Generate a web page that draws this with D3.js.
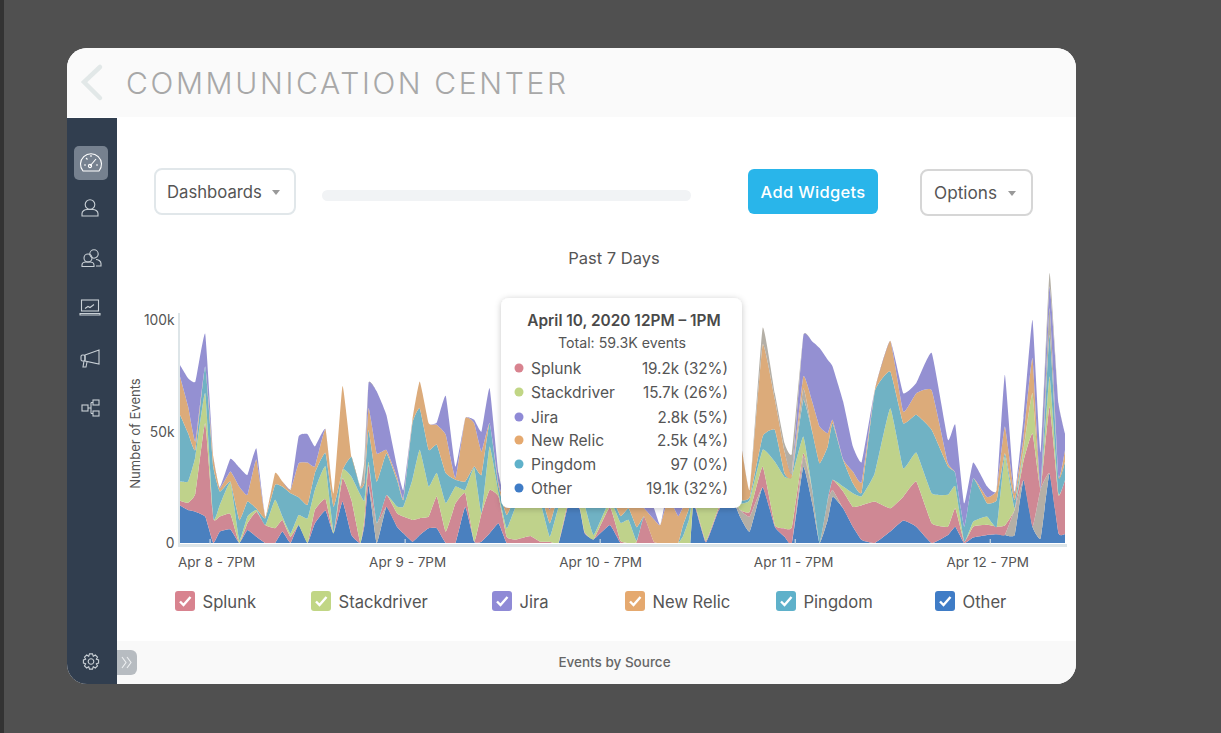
<!DOCTYPE html>
<html><head><meta charset="utf-8">
<script src="https://cdn.jsdelivr.net/npm/d3@7"></script>
<style>
html,body{margin:0;padding:0;background:#505050;overflow:hidden}
svg{display:block}
text{font-family:Inter,"Open Sans",sans-serif;fill:#555}
</style></head><body>
<svg id="c" width="1221" height="733"></svg>
<script>
// ---- data (thousands of events per source, hours after Apr 8 7PM) ----
const hours=[-3.7,-2.7,-1.8,-0.6,0.4,1.2,2.5,3.6,4.6,5.7,6.8,8,8.9,9.9,10.9,12,12.9,14.2,15.2,16.3,17.4,18.5,19,19.5,20.5,21.7,23,23.8,24.9,25.8,26.9,27.9,29,30.2,31.4,32.5,33.4,34.4,35.5,36.5,37.7,39.4,40.6,41.8,42.9,44.3,45.5,46.1,47.2,49.2,50.5,51.5,52.5,53.4,54.6,55.4,56.4,57.6,58.2,58.9,59.1,59.5,61,62.5,64,65.2,66.4,68,69.5,70.7,71.6,73,74.1,75,76,76.6,77.9,79.1,80.2,81.8,83.7,85.3,86.9,88.8,90.8,91.7,92.8,93.9,95.6,96.8,97.8,99,100.1,101.2,102.2,103.3,104.4,105.2];
const other=[16.7,14.7,14,11.8,0,5.1,6.1,0,5.8,2.8, 0,0,5.1,0,8,0,8.8,14.5,4.3,18.5, 3.6,0,8,25.9,0,16.2,7.3,4.3,.6,3.6, 6.6,6.6,0,0,16.2,.6,.6,4.3,8.8,0, 0,0,0,0,0,20,15,4.3,1.6,8, 0,0,0,0,0,0,0,0,0,0, 0,18,.3,14,22,11.8,5.1,24.9,7.3,2.8, 0,34,17.7,0,10.3,20.7,15.5,7.3,1.3,0, 5.1,10,7.3,0,3.6,7.3,0,2.5,3.6,3.9, 3.6,3.6,28.1,7.3,2.1,31.1,4.3,4];
const splunk=[2.2,3.3,8.2,41.7,11,6.7,6.9,0,3,11.2, 8,6.6,5.2,2.8,0,0,6,5.1,0,10.4, 15.6,0,3,8.9,0,5.2,6,7.5,9.7,7.5, 5.2,14.2,5.1,17.7,6,0,12.7,19.4,11.9,2.8, 1.6,3.1,.6,.6,.3,2,.5,.5,0,8, 1,0,.5,11.8,.6,0,0,0,0,0, 0,1,.7,1,1,0,2.2,9.2,.7,3.7, 7.3,1.5,0,0,0,4.5,7.5,8.9,15.6,18.5, 10.4,10.7,20.1,8.8,3.7,8.2,.6,4.8,4.5,3.4, 4.2,0,8.6,41.7,0,29.8,17.1,24.1];
const stackdriver=[8.5,9.4,16.4,13.4,0,5.2,14,1.3,3,.7, 0,12.7,1.5,1.5,4.5,11,8.9,14.6,.7,3.7, 10.4,21.5,8,1.5,0,0,3,4.5,17.9,30.5, 13.4,10.4,12.7,7.5,1.5,32.8,0,19.4,1.5,3.7, 15.3,16,18,2.2,16,6,4,12,2,3, 8,10.3,.5,0,0,0,0,0,3,10, 14,3,15,6,3,3,5.2,7.5,28.3,23, 22.4,7.5,0,0,0,0,2.2,6,4,12.7, 44.7,12.7,13,13.4,14.2,9.7,0,2.2,3.7,0, 30.8,.7,4.5,17.9,0,13.4,.7,0];
const pingdom=[29.8,21.6,3,11.9,23.1,6,.4,8.9,6.7,.7, 3,6.7,13.4,17.9,7.9,6,7.5,6,11.2,0, 8.9,3,8,14.2,18.6,18.6,11.9,3,25.3,18.6, 16.4,12.7,13.4,3,3.7,.7,17.1,10.4,3,6, 5,8,5,6,6,3,5,5,14,3, 3,5.2,6,0,0,0,0,0,5,5, 3,2,3,2,2,1.5,1.2,6,14.2,1.5, 0,16.4,26,35.6,23.8,25.3,11.9,4.5,1.9,36.5, 16.4,20.1,16.8,28.3,12.7,6,6.7,19.4,6,11.9, 1.5,3.7,.7,0,0,18.6,7.5,8.2];
const newRelic=[17.1,11.9,3.7,0,4.5,1.5,4.5,14.9,3,21.9, .7,5.2,2.2,1.5,15.2,18.9,3,10.7,6,37.5, 0,.7,2,9.7,12.7,1.5,1.5,.7,1.5,11.9, 11.9,8.9,17.1,.7,28.3,19.4,10.4,0,1.5,3, 5,6,5,6,6,3,3,3,3,3, 5,3,10,3.7,10,8,20,12,8,3, 1,1,3,2,2,26.8,3.3,41,13.4,9.7, 1.5,5.4,13.4,16.4,6,1.5,.3,5.2,4.5,.7, 13.7,5.2,9.7,17.6,1.5,0,0,0,2.7,4.5, 11.9,3,5.2,15.6,0,0,0,5.2];
const jira=[5.2,12.7,26.8,14.6,0,.4,5.7,8.6,8.9,4.9, 0,0,0,0,11.9,12.7,8.9,0,0,0, 0,0,0,11.2,27.6,15.6,4.5,3.7,0,0, 0,1,17.4,5.2,0,1.5,8.9,15.6,4.5,1.5, 5,3,3,8,3,3,3,3,3,3, 3,2,5,3,5,0,5,8,6,3, 3,0,3,2,2,0,0,0,0,0, 0,18.2,26.8,35,32.8,23.8,25.8,11.2,8.9,0, 0,8.2,4.5,16.7,10.4,21.6,10.4,7,4.8,0, 23.1,.7,8.9,17.1,16.4,9.7,32.8,7.4];
// unlabelled grey slivers visible in the picture, keyed by hour
const greyLow={20.5:8.8,65.2:3,66.4:6.7,73:4.5,74.1:6,76:8.9,76.6:3,99:11.2,102.2:22};
const greyMid={73:5,103.3:11.9};
const greyTop={19:8,68:7.5,69.5:3,70.7:3.7,71.6:8.9,103.3:6};

const legendNames=["Splunk","Stackdriver","Jira","New Relic","Pingdom","Other"];
const legendColors=["#d8838f","#c1d685","#8f8ad6","#e5a96f","#5fb1ca","#3f7cc6"];
const legendBoxX=[175,311,492,625,776,935];
const yTicks=[0,50,100];
const xTickHours=[0,24,48,72,96];
const xTickLabels=["Apr 8 - 7PM","Apr 9 - 7PM","Apr 10 - 7PM","Apr 11 - 7PM","Apr 12 - 7PM"];
const xTickNudge=[6,2,0,-2,-3];
const tipValues=["19.2k (32%)","15.7k (26%)","2.8k (5%)","2.5k (4%)","97 (0%)","19.1k (32%)"];
const tipRowY=[368,392,417,440,464,488];
const navY=[163,208,258,307,358,408];

const svg=d3.select("#c");
const grey="#b4afa6";
const layerKeys=["Other","GreyLow","Splunk","Stackdriver","Pingdom","GreyMid","New Relic","Jira","GreyTop"];
const layerColors={"Other":"#4a80bf","GreyLow":grey,"Splunk":"#cf8894","Stackdriver":"#bfd28b","Pingdom":"#70b2c4","GreyMid":grey,"New Relic":"#dcab7a","Jira":"#9490d2","GreyTop":grey};
const rows=hours.map((h,i)=>({h,"Other":other[i],"GreyLow":greyLow[h]||0,"Splunk":splunk[i],"Stackdriver":stackdriver[i],"Pingdom":pingdom[i],"GreyMid":greyMid[h]||0,"New Relic":newRelic[i],"Jira":jira[i],"GreyTop":greyTop[h]||0}));

// ---- window chrome ----
svg.append("rect").attr("width",1221).attr("height",733).attr("fill","#505050");
svg.append("rect").attr("width",4).attr("height",733).attr("fill","#333");
svg.append("clipPath").attr("id","card").append("rect").attr("x",67).attr("y",48).attr("width",1009).attr("height",636).attr("rx",20);
const card=svg.append("g").attr("clip-path","url(#card)");
card.append("rect").attr("x",67).attr("y",48).attr("width",1009).attr("height",636).attr("fill","#fff");
card.append("rect").attr("x",67).attr("y",48).attr("width",1009).attr("height",69).attr("fill","#fafafa");
card.append("rect").attr("x",117).attr("y",641).attr("width",959).attr("height",43).attr("fill","#f9f9f9");
card.append("rect").attr("x",67).attr("y",118).attr("width",50).attr("height",566).attr("fill","#313e4f");
svg.append("path").attr("d","M100,67L84,82L100,98").attr("fill","none").attr("stroke","#e2e8e8").attr("stroke-width",4.5).attr("stroke-linecap","round");
svg.append("text").attr("x",126).attr("y",94).attr("font-size",30).attr("letter-spacing",2.65).attr("font-weight",300).style("fill","#a8a8a8").text("COMMUNICATION CENTER");

// ---- sidebar icons ----
svg.append("rect").attr("x",74).attr("y",146).attr("width",34).attr("height",34).attr("rx",5).attr("fill","#76818f");
const ico=svg.append("g").attr("fill","none").attr("stroke","#c9d0d6").attr("stroke-width",1.1);
const icon=(i,fn)=>fn(ico.append("g").attr("transform",`translate(${i===1||i===3||i===4?90:91},${navY[i]})`));
icon(0,g=>{g.attr("stroke","#fff");g.append("path").attr("d","M-8,8A10.5,10.5 0 1 1 8,8Z");g.append("path").attr("d","M-1,3L5,-4");g.append("circle").attr("cx",-1).attr("cy",3).attr("r",1.6);g.append("path").attr("d","M-7,2h2M5,2h2M-5,-5l1.5,1.5M0,-8v2");});
icon(1,g=>{g.append("circle").attr("cy",-3.5).attr("r",4.8);g.append("path").attr("d","M-8,8v-2.5c0,-2.5 3,-4 5,-4h6c2,0 5,1.5 5,4V8Z");});
icon(2,g=>{g.append("circle").attr("cx",3).attr("cy",-4).attr("r",4.2);g.append("path").attr("d","M5,8h5v-2.5c0,-2.5 -3,-4 -5,-4");g.append("circle").attr("cx",-3).attr("cy",0).attr("r",4);g.append("path").attr("d","M-9,8.500v-1.500c0,-2 2,-3 4,-3h4c2,0 4,1 4,3v1.500Z");});
icon(3,g=>{g.append("rect").attr("x",-8.500).attr("y",-7).attr("width",17).attr("height",11);g.append("path").attr("d","M-10,6.500h20v1.500h-20ZM-5,1.500l3,-2l2,1l4,-3");});
icon(4,g=>{g.append("path").attr("d","M-5,-3L9,-8V6L-5,3Z");g.append("rect").attr("x",-9).attr("y",-3).attr("width",4).attr("height",6).attr("rx",1.500);g.append("path").attr("d","M-6,3l-1,6h3l1,-5");});
icon(5,g=>{g.append("rect").attr("x",-9).attr("y",-3).attr("width",6).attr("height",6);g.append("rect").attr("x",2).attr("y",-8).attr("width",6).attr("height",5);g.append("rect").attr("x",2).attr("y",3).attr("width",6).attr("height",5);g.append("path").attr("d","M-3,0h3M0,-5.500v11M0,-5.500h2M0,5.500h2");});
const gear=ico.append("g").attr("transform","translate(91,661.500)");
gear.append("circle").attr("r",2.800);
gear.append("path").attr("d",d3.range(8).map(i=>{const a=i*Math.PI/4;const p=(r,d)=>`${(r*Math.sin(a+d)).toFixed(1)},${(-r*Math.cos(a+d)).toFixed(1)}`;return `${i?"L":"M"}${p(5.8,-.38)}L${p(7.8,-.2)}L${p(7.8,.2)}L${p(5.8,.38)}`;}).join("")+"Z");
svg.append("path").attr("d","M117,650h14a6,6 0 0 1 6,6v13a6,6 0 0 1 -6,6h-14Z").attr("fill","#b7bcc1");
svg.append("path").attr("d","M122,657l4,5.500l-4,5.500M127,657l4,5.500l-4,5.500").attr("fill","none").attr("stroke","#eef0f2").attr("stroke-width",1.100);
svg.append("text").attr("x",614.5).attr("y",667).attr("text-anchor","middle").attr("font-size",13.500).attr("font-weight",500).style("fill","#666").text("Events by Source");

// ---- toolbar ----
svg.append("rect").attr("x",155).attr("y",169).attr("width",140).attr("height",45).attr("rx",7).attr("fill","#fff").attr("stroke","#e1e7ea").attr("stroke-width",2);
svg.append("text").attr("x",167).attr("y",198).attr("font-size",16.700).text("Dashboards");
svg.append("path").attr("d","M272,190h8l-4,5Z").attr("fill","#999");
svg.append("rect").attr("x",322).attr("y",190).attr("width",369).attr("height",11).attr("rx",5.500).attr("fill","#f1f3f5");
svg.append("rect").attr("x",748).attr("y",169).attr("width",130).attr("height",45).attr("rx",6).attr("fill","#29b5ea");
svg.append("text").attr("x",813).attr("y",198).attr("text-anchor","middle").attr("font-size",16.500).attr("letter-spacing",.3).attr("font-weight",500).style("fill","#fff").text("Add Widgets");
svg.append("rect").attr("x",921).attr("y",170).attr("width",111).attr("height",45).attr("rx",7).attr("fill","#fff").attr("stroke","#d6d6d6").attr("stroke-width",2);
svg.append("text").attr("x",934).attr("y",199).attr("font-size",17.200).text("Options");
svg.append("path").attr("d","M1008,191h8l-4,5Z").attr("fill","#999");
svg.append("text").attr("x",614).attr("y",264).attr("text-anchor","middle").attr("font-size",16.500).text("Past 7 Days");

// ---- chart ----
const x=d3.scaleLinear().domain([hours[0],hours[hours.length-1]]).range([180,1065]);
const y=d3.scaleLinear().domain([0,100]).range([543,319]);
svg.append("clipPath").attr("id","plot").append("rect").attr("x",180).attr("y",260).attr("width",885).attr("height",283);
const series=d3.stack().keys(layerKeys)(rows);
const area=d3.area().curve(d3.curveCardinal.tension(0.65)).x(d=>x(d.data.h)).y0(d=>y(d[0])).y1(d=>y(d[1]));
svg.append("g").attr("clip-path","url(#plot)").selectAll("path").data(series).join("path").attr("d",area).attr("fill",d=>layerColors[d.key]);

const xAxis=d3.axisBottom(x).tickValues(xTickHours).tickFormat((d,i)=>xTickLabels[i]).tickSize(0);
const gx=svg.append("g").attr("transform","translate(0,543)").call(xAxis);
gx.select(".domain").remove();
gx.selectAll("text").attr("y",20).attr("dy",".32em").attr("font-size",13.500).attr("dx",(d,i)=>xTickNudge[i]);
svg.append("rect").attr("x",178).attr("y",544).attr("width",889).attr("height",3).attr("fill","#dde5e8");
svg.selectAll("line.tk").data(xTickHours).join("line").attr("class","tk").attr("x1",d=>x(d)).attr("x2",d=>x(d)).attr("y1",539).attr("y2",544).attr("stroke","#e4e8ea");
const yAxis=d3.axisLeft(y).tickValues(yTicks).tickFormat(d=>d===0?"0":d+"k").tickSize(0);
const gy=svg.append("g").attr("transform","translate(179,0)").call(yAxis);
gy.select(".domain").remove();
gy.selectAll("text").attr("x",-4.5).attr("y",d=>d===0?0:1).attr("font-size",13.800);
svg.append("rect").attr("x",178).attr("y",313).attr("width",2).attr("height",232).attr("fill","#dde5e8");
svg.append("text").attr("transform","translate(140,433.500) rotate(-90)").attr("text-anchor","middle").attr("font-size",13).text("Number of Events");

// ---- legend ----
const lg=svg.append("g").selectAll("g").data(legendNames).join("g").attr("transform",(d,i)=>`translate(${legendBoxX[i]},591)`);
lg.append("rect").attr("width",20).attr("height",20).attr("rx",3).attr("fill",(d,i)=>legendColors[i]);
lg.append("path").attr("d","M5,10.500l3.500,3.500l7,-8").attr("fill","none").attr("stroke","#fff").attr("stroke-width",2.400);
lg.append("text").attr("x",27.5).attr("y",16.500).attr("font-size",16.600).text(d=>d);

// ---- tooltip ----
const defs=svg.append("defs");
const f=defs.append("filter").attr("id","sh").attr("x","-10%").attr("y","-10%").attr("width","120%").attr("height","120%");
f.append("feDropShadow").attr("dx",0).attr("dy",1).attr("stdDeviation",3).attr("flood-color","#000").attr("flood-opacity",.22);
svg.append("rect").attr("x",501).attr("y",298).attr("width",241).attr("height",210).attr("rx",8).attr("fill","#fff").attr("filter","url(#sh)");
svg.append("text").attr("x",624).attr("y",325.500).attr("text-anchor","middle").attr("font-size",15.400).attr("font-weight",600).style("fill","#4a4a4a").text("April 10, 2020 12PM – 1PM");
svg.append("text").attr("x",622).attr("y",348).attr("text-anchor","middle").attr("font-size",14.200).text("Total: 59.3K events");
const tip=svg.append("g").selectAll("g").data(legendNames).join("g").attr("transform",(d,i)=>`translate(0,${tipRowY[i]})`);
tip.append("circle").attr("cx",519).attr("r",4.500).attr("fill",(d,i)=>legendColors[i]);
tip.append("text").attr("x",531).attr("y",5.500).attr("font-size",15.600).text(d=>d);
tip.append("text").attr("x",728).attr("y",5.500).attr("text-anchor","end").attr("font-size",15.200).text((d,i)=>tipValues[i]);
</script></body></html>
